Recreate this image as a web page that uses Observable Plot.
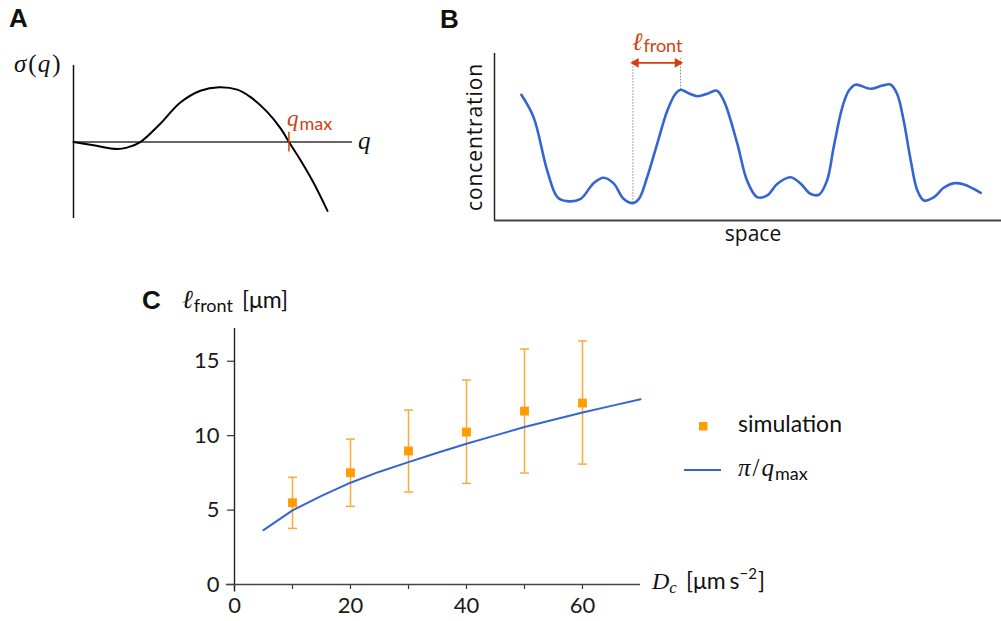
<!DOCTYPE html>
<html><head><meta charset="utf-8">
<script src="https://cdn.jsdelivr.net/npm/d3@7"></script>
<script src="https://cdn.jsdelivr.net/npm/@observablehq/plot@0.6"></script>
<style>
body{margin:0;background:#fff;}
#fig{position:relative;width:1001px;height:621px;overflow:hidden;background:#fff}
#fig svg{position:absolute;overflow:visible;max-width:none}
</style></head><body><div id="fig"></div>
<script>
// ---------- Panel A: growth rate sigma(q) ----------
const growthQ     = [0, 0.093, 0.202, 0.248, 0.310, 0.403, 0.496, 0.589, 0.676, 0.760, 0.822, 0.900, 0.962, 1.000, 1.054, 1.116, 1.179];
const growthSigma = [0, -0.06, -0.127, -0.102, 0, 0.335, 0.720, 0.935, 1.0, 0.955, 0.818, 0.545, 0.244, 0, -0.333, -0.756, -1.255];
const qMax = 1.0;
const qMaxTickHalf = 0.18;

// ---------- Panel B: concentration profile ----------
const spacePos = [5.3, 7.7, 10.4, 12.4, 14.3, 17.0, 19.5, 21.5, 23.5, 25.4, 27.3, 28.5, 30.1, 32.1, 34.1, 35.7, 36.7, 38.3, 40.0, 42.0, 43.8, 45.2, 47.9, 49.8, 51.8, 53.8, 55.8, 58.4, 60.4, 62.3, 64.0, 65.6, 66.9, 68.6, 69.9, 71.2, 74.2, 76.5, 78.1, 79.4, 80.7, 82.1, 83.4, 84.7, 86.7, 88.6, 90.6, 92.6, 95.9];
const concentration = [0.753, 0.619, 0.299, 0.140, 0.116, 0.130, 0.222, 0.256, 0.222, 0.132, 0.104, 0.130, 0.259, 0.461, 0.659, 0.759, 0.783, 0.762, 0.744, 0.759, 0.778, 0.719, 0.459, 0.240, 0.140, 0.150, 0.220, 0.259, 0.220, 0.160, 0.154, 0.240, 0.439, 0.678, 0.778, 0.813, 0.789, 0.808, 0.814, 0.759, 0.599, 0.359, 0.180, 0.120, 0.140, 0.196, 0.223, 0.216, 0.166];
const frontStart = 27.3, frontEnd = 36.7;
const frontStartConc = 0.104, frontEndConc = 0.783;
const guideTop = 0.97, arrowLevel = 0.944;

// ---------- Panel C: front width vs Dc ----------
const diffusionDc = [10, 20, 30, 40, 50, 60];
const simMean = [5.49, 7.51, 8.97, 10.24, 11.65, 12.19];
const simLow  = [3.77, 5.25, 6.21, 6.79, 7.49, 8.09];
const simHigh = [7.20, 9.77, 11.72, 13.74, 15.82, 16.36];
const theoryDc = [5, 10, 15, 20, 25, 30, 35, 40, 45, 50, 55, 60, 65, 70];
const theoryFront = [3.65, 4.98, 5.95, 6.84, 7.58, 8.22, 8.85, 9.46, 10.02, 10.58, 11.07, 11.55, 12.0, 12.44];
const xTicksC = [0, 10, 20, 30, 40, 50, 60];
const xLabelsC = [0, 20, 40, 60];
const yTicksC = [0, 5, 10, 15];

const RED = "#d2400f", BLUE = "#3565d4", ORANGE = "#ff9d00", ORANGE_BAR = "#fbab3a";
const SERIF = "'Liberation Serif','DejaVu Serif',serif";
const SANS = "Lato, 'Liberation Sans', sans-serif";
const OPEN = "'Open Sans', sans-serif";
const fig = document.getElementById("fig");

function place(svg, left, top) {
  svg.style.left = left + "px"; svg.style.top = top + "px";
  fig.appendChild(svg);
}
function addText(svg, ox, oy, x, y, parts, opts = {}) {
  const t = d3.select(svg).append("text")
    .attr("x", x - ox).attr("y", y - oy)
    .attr("fill", opts.fill || "#111")
    .attr("text-anchor", opts.anchor || "start");
  if (opts.rotate) t.attr("transform", `rotate(${opts.rotate},${x - ox},${y - oy})`);
  if (opts.letterSpacing) t.attr("letter-spacing", opts.letterSpacing);
  for (const p of parts) {
    const s = t.append("tspan").text(p.t)
      .attr("font-family", p.family || SANS)
      .attr("font-size", p.size || 21)
      .attr("font-style", p.italic ? "italic" : "normal")
      .attr("font-weight", p.bold ? "bold" : "normal");
    if (p.dx) s.attr("dx", p.dx);
    if (p.dy) s.attr("dy", p.dy);
    if (p.fill) s.attr("fill", p.fill);
  }
  return t;
}

// ---------- Panel A ----------
const aData = growthQ.map((q, i) => ({q, s: growthSigma[i]}));
const plotA = Plot.plot({
  width: 380, height: 230,
  marginLeft: 73, marginRight: 28, marginTop: 65, marginBottom: 12,
  x: {domain: [0, 1.295], axis: null},
  y: {domain: [-1.393, 1.395], axis: null},
  style: {background: "transparent", overflow: "visible"},
  marks: [
    Plot.ruleY([0], {stroke: "#333", strokeWidth: 1.5}),
    Plot.ruleX([0], {stroke: "#111", strokeWidth: 1.5}),
    Plot.line(aData, {x: "q", y: "s", curve: "catmull-rom", stroke: "#000", strokeWidth: 2}),
    Plot.ruleX([{q: qMax, lo: -qMaxTickHalf, hi: qMaxTickHalf}], {x: "q", y1: "lo", y2: "hi", stroke: RED, strokeWidth: 1.5})
  ]
});
place(plotA, 0, 0);
addText(plotA, 0, 0, 9, 27, [{t: "A", family: "'Liberation Sans',Arial,sans-serif", size: 26, bold: true}]);
addText(plotA, 0, 0, 14, 72, [
  {t: "σ", family: SERIF, italic: true, size: 25},
  {t: "(", family: SERIF, size: 25, dx: 2},
  {t: "q", family: SERIF, italic: true, size: 25, dx: 1},
  {t: ")", family: SERIF, size: 25, dx: 2}
]);
addText(plotA, 0, 0, 358, 149, [{t: "q", family: SERIF, italic: true, size: 25}]);
addText(plotA, 0, 0, 287, 126, [
  {t: "q", family: SERIF, italic: true, size: 23},
  {t: "max", family: SANS, size: 18, dy: 4, dx: 1}
], {fill: RED});

// ---------- Panel B ----------
const bData = spacePos.map((x, i) => ({x, c: concentration[i]}));
const guides = [
  {x: frontStart, y1: frontStartConc, y2: guideTop},
  {x: frontEnd, y1: frontEndConc, y2: guideTop}
];
const plotB = Plot.plot({
  width: 571, height: 250,
  marginLeft: 64, marginRight: 0, marginTop: 53, marginBottom: 30,
  x: {domain: [0, 100], axis: null},
  y: {domain: [0, 1], axis: null},
  style: {background: "transparent", overflow: "visible"},
  marks: [
    Plot.ruleX(guides, {x: "x", y1: "y1", y2: "y2", stroke: "#8a8a8a", strokeWidth: 1, strokeDasharray: "1.5,1.5"}),
    Plot.ruleX([0], {stroke: "#222", strokeWidth: 1.5}),
    Plot.ruleY([0], {stroke: "#444", strokeWidth: 2}),
    Plot.line(bData, {x: "x", y: "c", curve: "catmull-rom", stroke: BLUE, strokeWidth: 2.6}),
    Plot.link([{x1: frontStart, x2: frontEnd, y: arrowLevel}], {x1: "x1", x2: "x2", y1: "y", y2: "y", stroke: RED, strokeWidth: 1.8, insetLeft: 4, insetRight: 4}),
    Plot.dot([{x: frontStart, y: arrowLevel}], {x: "x", y: "y", symbol: "triangle", rotate: -90, r: 3.6, fill: RED, dx: 3}),
    Plot.dot([{x: frontEnd, y: arrowLevel}], {x: "x", y: "y", symbol: "triangle", rotate: 90, r: 3.6, fill: RED, dx: -3})
  ]
});
place(plotB, 430, 0);
addText(plotB, 430, 0, 440, 28, [{t: "B", family: "'Liberation Sans',Arial,sans-serif", size: 26, bold: true}]);
addText(plotB, 430, 0, 632, 50, [
  {t: "ℓ", family: SERIF, italic: true, size: 25},
  {t: "front", family: SANS, size: 18, dy: 2, dx: 1}
], {fill: RED});
addText(plotB, 430, 0, 482, 137, [{t: "concentration", family: OPEN, size: 21}], {anchor: "middle", rotate: -90, letterSpacing: 0.9});
addText(plotB, 430, 0, 753, 241, [{t: "space", family: OPEN, size: 21}], {anchor: "middle"});

// ---------- Panel C ----------
const simData = diffusionDc.map((d, i) => ({dc: d, mean: simMean[i], low: simLow[i], high: simHigh[i]}));
const theoryData = theoryDc.map((d, i) => ({dc: d, l: theoryFront[i]}));
const capSymbol = {draw(ctx) { ctx.moveTo(-4.5, 0); ctx.lineTo(4.5, 0); }};
const plotC = Plot.plot({
  width: 871, height: 341,
  marginLeft: 104, marginRight: 361, marginTop: 48, marginBottom: 37,
  x: {domain: [0, 70]},
  y: {domain: [0, 17.2]},
  style: {fontFamily: SANS, fontSize: "22px", color: "#1a1a1a", background: "transparent", overflow: "visible"},
  marks: [
    Plot.axisX({ticks: xTicksC, tickFormat: d => xLabelsC.includes(d) ? String(d) : "", tickSize: 5, tickPadding: 8, label: null, fontSize: 22, stroke: "#333", strokeWidth: 1.2}),
    Plot.axisY({ticks: yTicksC, tickSize: 7, tickPadding: 8, label: null, fontSize: 22, stroke: "#333", strokeWidth: 1.2}),
    Plot.ruleX([{x: 0, y1: -0.5, y2: 17.2}], {x: "x", y1: "y1", y2: "y2", stroke: "#222", strokeWidth: 1.4}),
    Plot.ruleY([{y: 0, x1: -1.4, x2: 70}], {y: "y", x1: "x1", x2: "x2", stroke: "#444", strokeWidth: 1.6}),
    Plot.ruleX(simData, {x: "dc", y1: "low", y2: "high", stroke: ORANGE_BAR, strokeWidth: 1.5}),
    Plot.dot(simData, {x: "dc", y: "low", symbol: capSymbol, r: 4, fill: "none", stroke: ORANGE_BAR, strokeWidth: 1.5}),
    Plot.dot(simData, {x: "dc", y: "high", symbol: capSymbol, r: 4, fill: "none", stroke: ORANGE_BAR, strokeWidth: 1.5}),
    Plot.line(theoryData, {x: "dc", y: "l", stroke: BLUE, strokeWidth: 2}),
    Plot.dot(simData, {x: "dc", y: "mean", symbol: "square", r: 5, fill: ORANGE, stroke: "none"})
  ]
});
place(plotC, 130, 280);
const ox = 130, oy = 280;
addText(plotC, ox, oy, 142, 309, [{t: "C", family: "'Liberation Sans',Arial,sans-serif", size: 26, bold: true}]);
addText(plotC, ox, oy, 182, 308, [
  {t: "ℓ", family: SERIF, italic: true, size: 26},
  {t: "front", family: SANS, size: 18, dy: 4, dx: 1},
  {t: "[μm]", family: SANS, size: 23, dy: -4, dx: 9}
]);
addText(plotC, ox, oy, 652, 589, [
  {t: "D", family: SERIF, italic: true, size: 24},
  {t: "c", family: SERIF, italic: true, size: 17, dy: 4},
  {t: "[μm", family: SANS, size: 23, dy: -4, dx: 9},
  {t: "s", family: SANS, size: 23, dx: 4},
  {t: "−2", family: SANS, size: 15, dy: -10},
  {t: "]", family: SANS, size: 23, dy: 10, dx: 1}
]);
// legend
d3.select(plotC).append("rect").attr("x", 699 - ox).attr("y", 422 - oy).attr("width", 8.5).attr("height", 8.5).attr("fill", ORANGE);
addText(plotC, ox, oy, 738, 432, [{t: "simulation", family: SANS, size: 23}]);
d3.select(plotC).append("line").attr("x1", 684 - ox).attr("x2", 721 - ox).attr("y1", 470 - oy).attr("y2", 470 - oy).attr("stroke", BLUE).attr("stroke-width", 2);
addText(plotC, ox, oy, 738, 476, [
  {t: "π", family: SERIF, italic: true, size: 25},
  {t: "/", family: SERIF, size: 25, dx: 2},
  {t: "q", family: SERIF, italic: true, size: 25, dx: 2},
  {t: "max", family: SANS, size: 18, dy: 4, dx: 1}
]);
</script></body></html>
